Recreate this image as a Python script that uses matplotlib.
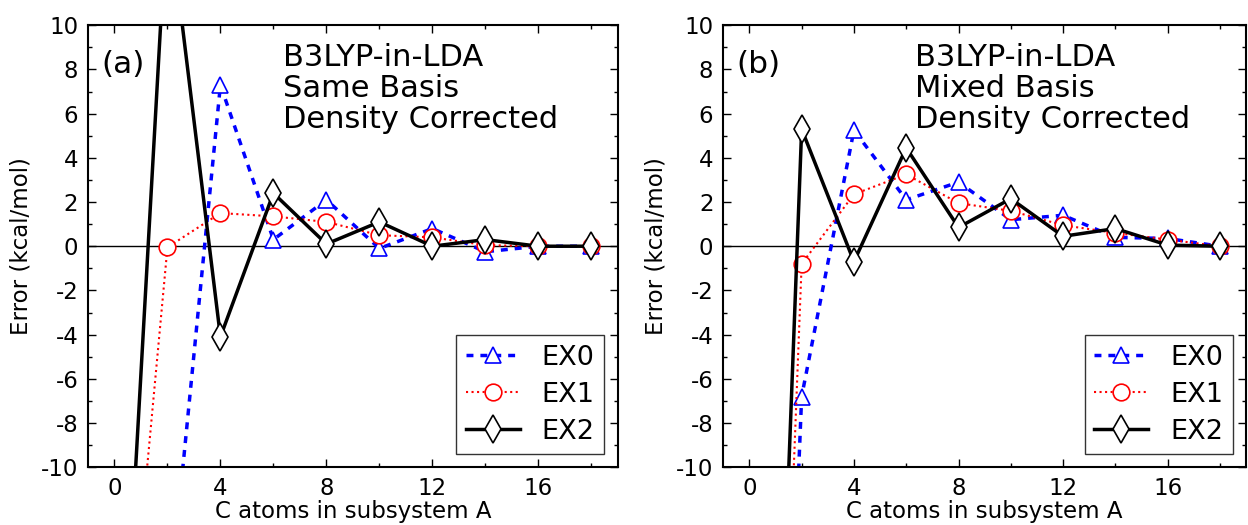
import matplotlib
matplotlib.use('Agg')
import matplotlib.pyplot as plt
from matplotlib.ticker import MultipleLocator

plt.rcParams['font.family'] = ['DejaVu Sans']
plt.rcParams['axes.unicode_minus'] = False

# C atoms in subsystem A
n_atoms = [0, 2, 4, 6, 8, 10, 12, 14, 16, 18]

# (a) same basis, density corrected
same_ex0 = [-40.0, -17.1, 7.3, 0.3, 2.1, -0.1, 0.8, -0.25, 0.0, 0.0]
same_ex1 = [-26.0, -0.05, 1.5, 1.35, 1.1, 0.5, 0.4, 0.05, 0.0, 0.0]
same_ex2 = [-27.0, 15.5, -4.1, 2.4, 0.1, 1.1, 0.0, 0.3, 0.0, 0.0]

# (b) mixed basis, density corrected
mixed_ex0 = [-65.0, -6.8, 5.25, 2.1, 2.9, 1.2, 1.4, 0.4, 0.35, 0.0]
mixed_ex1 = [-62.0, -0.8, 2.35, 3.25, 1.95, 1.6, 0.95, 0.6, 0.3, 0.0]
mixed_ex2 = [-57.0, 5.3, -0.7, 4.45, 0.85, 2.15, 0.45, 0.8, 0.05, 0.0]

panels = [
    ('(a)', 'B3LYP-in-LDA\nSame Basis\nDensity Corrected', same_ex0, same_ex1, same_ex2),
    ('(b)', 'B3LYP-in-LDA\nMixed Basis\nDensity Corrected', mixed_ex0, mixed_ex1, mixed_ex2),
]

fig = plt.figure(figsize=(12.48, 5.25), dpi=100)
axes = [fig.add_axes([0.0705, 0.11, 0.4245, 0.842]),
        fig.add_axes([0.5795, 0.11, 0.419, 0.842])]

for ax, (tag, title, ex0, ex1, ex2) in zip(axes, panels):
    ax.axhline(0, color='black', linewidth=1)
    ax.plot(n_atoms, ex0, color='blue', linestyle='--', dashes=(2, 2), linewidth=2.5,
            marker='^', markersize=12, markerfacecolor='white', markeredgecolor='blue',
            markeredgewidth=1.2, label='EX0')
    ax.plot(n_atoms, ex1, color='red', linestyle=':', linewidth=1.5,
            marker='o', markersize=12, markerfacecolor='white', markeredgecolor='red',
            markeredgewidth=1.2, label='EX1')
    ax.plot(n_atoms, ex2, color='black', linestyle='-', linewidth=2.5,
            marker='d', markersize=14, markerfacecolor='white', markeredgecolor='black',
            markeredgewidth=1.2, label='EX2')

    ax.set_xlim(-1, 19)
    ax.set_ylim(-10, 10)
    ax.xaxis.set_major_locator(MultipleLocator(4))
    ax.xaxis.set_minor_locator(MultipleLocator(2))
    ax.yaxis.set_major_locator(MultipleLocator(2))
    ax.yaxis.set_minor_locator(MultipleLocator(1))
    ax.tick_params(which='both', direction='in', top=True, right=True, labelsize=16.5)
    ax.tick_params(which='major', length=6, width=1, pad=7)
    ax.tick_params(which='minor', length=3, width=1)
    for sp in ax.spines.values():
        sp.set_linewidth(1.5)

    ax.set_xlabel('C atoms in subsystem A', fontsize=16.5, labelpad=0)
    ax.set_ylabel('Error (kcal/mol)', fontsize=16.5, labelpad=6)

    ax.text(-0.5, 8.2, tag, fontsize=22.5, va='center', ha='left')
    ax.text(6.35, 9.2, title, fontsize=22, va='top', ha='left', linespacing=1.1)

    leg = ax.legend(loc='lower right', fontsize=19.5, fancybox=False, numpoints=1,
                    handlelength=2.0, borderpad=0.35, labelspacing=0.4,
                    borderaxespad=0, bbox_to_anchor=(0.974, 0.03))
    leg.get_frame().set_edgecolor('black')
    leg.get_frame().set_linewidth(1)

fig.savefig('out.png', dpi=100)
